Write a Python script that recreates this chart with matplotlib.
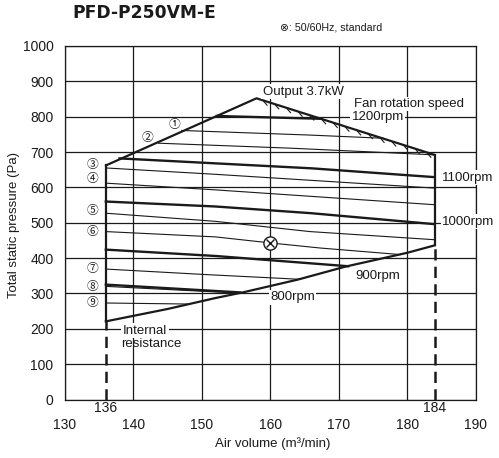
import numpy as np
import matplotlib
matplotlib.use("Agg")
import matplotlib.pyplot as plt

# ---------------- data ----------------
x_ticks = [130, 140, 150, 160, 170, 180, 190]
y_ticks = [0, 100, 200, 300, 400, 500, 600, 700, 800, 900, 1000]

# operating range boundary
upper_x = [136, 158, 184]
upper_y = [662, 852, 692]
output_x = [158, 184]          # hatched motor output limit (3.7 kW)
output_y = [852, 692]
resist_x = [136, 145, 152, 156, 164, 171, 180, 184]   # internal resistance curve
resist_y = [221, 256, 287, 303, 339, 376, 415, 436]
range_min_x = 136
range_max_x = 184

# fan rotation speed curves (thick)
rpm_labels = ["1200rpm", "1100rpm", "1000rpm", "900rpm", "800rpm"]
rpm_x = [[152.2, 167.5], [138, 152, 166, 184], [136, 152, 166, 184],
         [136, 152, 171.4], [136, 155.6]]
rpm_y = [[802, 794], [682, 668, 654, 629], [560, 546, 527, 496],
         [424, 406, 377], [325, 303]]

# numbered setting curves (thin)
pos_labels = ["①", "②", "③", "④", "⑤", "⑥", "⑦", "⑧", "⑨"]
pos_x = [[147.1, 165.8, 176.5], [143.7, 162.9, 184], [136, 152, 184],
         [136, 152, 184], [136, 152, 165.8, 184], [136, 152, 160, 167.3, 179],
         [136, 151, 164.4], [136, 155.4], [136, 148.3]]
pos_y = [[761, 748, 739], [725, 711, 692], [655, 637, 598],
         [612, 593, 551], [527, 504, 475, 452], [475, 460, 443, 428.5, 410],
         [369, 353, 340], [320, 301], [273, 270]]

# standard point (50/60Hz)
std_x = 160
std_y = 443

# ---------------- style ----------------
plt.rcParams["font.family"] = ["Liberation Sans", "DejaVu Sans"]
INK = "#1a1a1a"

fig = plt.figure(figsize=(4.99, 4.58), dpi=100)
ax = fig.add_axes([0.1297, 0.1277, 0.9533 - 0.1297, 0.8996 - 0.1277])
ax.set_xlim(130, 190)
ax.set_ylim(0, 1000)
ax.set_xticks(x_ticks)
ax.set_yticks(y_ticks)
ax.tick_params(length=0, labelsize=10, colors=INK)
ax.tick_params(axis="x", pad=13)
ax.tick_params(axis="y", pad=8)
ax.grid(True, color=INK, lw=0.9)
ax.set_axisbelow(True)
for s in ax.spines.values():
    s.set_color(INK)
    s.set_linewidth(0.9)

# boundary
ax.plot(upper_x, upper_y, color=INK, lw=1.6, zorder=4, solid_capstyle="round")
ax.plot(resist_x, resist_y, color=INK, lw=1.6, zorder=4)
ax.plot([range_min_x, range_min_x], [resist_y[0], upper_y[0]], color=INK, lw=1.6, zorder=4)
ax.plot([range_max_x, range_max_x], [resist_y[-1], upper_y[-1]], color=INK, lw=1.6, zorder=4)
# dashed lower extensions
ax.plot([range_min_x, range_min_x], [0, resist_y[0]], color=INK, lw=1.8,
        dashes=(4.5, 2.5), zorder=4)
ax.plot([range_max_x, range_max_x], [0, resist_y[-1]], color=INK, lw=1.8,
        dashes=(4.5, 2.5), zorder=4)

# hatching below output limit line
t = np.linspace(0.04, 0.96, 15)
hx = output_x[0] + t * (output_x[1] - output_x[0])
hy = np.interp(hx, output_x, output_y)
for xx, yy in zip(hx, hy):
    ax.plot([xx, xx + 0.5], [yy - 2, yy - 13], color=INK, lw=0.8, zorder=4)

# rpm curves
for xs, ys in zip(rpm_x, rpm_y):
    ax.plot(xs, ys, color=INK, lw=1.7, zorder=4)

# numbered curves
for xs, ys in zip(pos_x, pos_y):
    ax.plot(xs, ys, color=INK, lw=0.8, zorder=4)

# standard point marker
ax.plot([std_x], [std_y], marker="o", ms=9.5, mfc="white", mec=INK, mew=1.0, zorder=6)
ax.plot([std_x], [std_y], marker="x", ms=5.5, mec=INK, mew=1.0, zorder=7)

# ---------------- labels ----------------
box = dict(facecolor="white", edgecolor="none", pad=1.0)
fs = 9.5
ax.text(158.9, 870, "Output 3.7kW", fontsize=fs, ha="left", va="center", color=INK,
        bbox=box, zorder=5)
ax.text(172.3, 836, "Fan rotation speed", fontsize=fs, ha="left", va="center", color=INK,
        bbox=box, zorder=5)
rpm_text_pos = [(171.9, 800, "left"), (185.1, 627, "left"), (185.1, 503, "left"),
                (172.4, 350, "left"), (160.0, 289, "left")]
for (tx, ty, ha), lab in zip(rpm_text_pos, rpm_labels):
    ax.text(tx, ty, lab, fontsize=fs, ha=ha, va="center", color=INK, bbox=box,
            zorder=5, clip_on=False)

ax.text(138.5, 195, "Internal", fontsize=fs, ha="left", va="center", color=INK,
        bbox=box, zorder=5)
ax.text(138.2, 158, "resistance", fontsize=fs, ha="left", va="center", color=INK, zorder=5)

num_pos = [(146.1, 777), (142.1, 742), (134.0, 664), (134.0, 624), (134.0, 534),
           (134.0, 475), (134.0, 372), (134.0, 320), (134.0, 275)]
for (tx, ty), lab in zip(num_pos, pos_labels):
    ax.text(tx, ty, lab, fontsize=8.5, ha="center", va="center", color=INK,
            family=["Noto Sans CJK JP", "DejaVu Sans"], zorder=5)

ax.text(range_min_x, -24, str(range_min_x), fontsize=10, ha="center", va="center",
        color=INK, clip_on=False)
ax.text(range_max_x, -24, str(range_max_x), fontsize=10, ha="center", va="center",
        color=INK, clip_on=False)

fig.text(0.546, 0.0306, "Air volume (m³/min)", fontsize=9.5, ha="center", va="center",
         color=INK)
fig.text(0.028, 0.509, "Total static pressure (Pa)", fontsize=9.5, ha="center",
         va="center", rotation=90, color=INK)
fig.text(0.1457, 0.9727, "PFD-P250VM-E", fontsize=12.3, fontweight="bold",
         family=["DejaVu Sans"], ha="left", va="center", color=INK)
fig.text(0.561, 0.9395, "⊗: 50/60Hz, standard", fontsize=7.7, ha="left", va="center",
         color=INK, family=["Liberation Sans", "DejaVu Sans"])

fig.savefig("out.png", dpi=100)
